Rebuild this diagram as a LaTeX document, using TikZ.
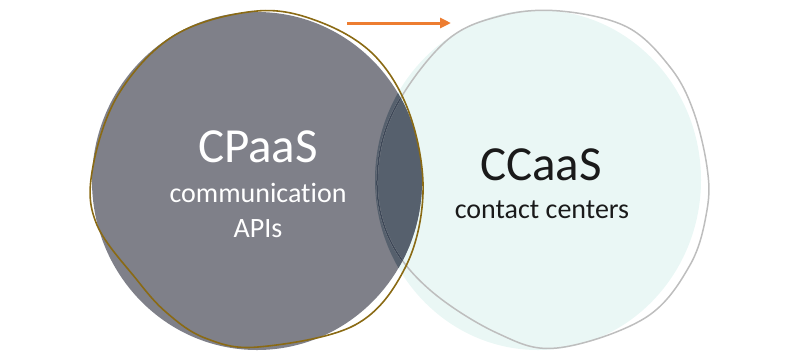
\documentclass[tikz,border=0pt]{standalone}
\usepackage{fontspec}
\setmainfont{Carlito}[Ligatures=CommonOff]
\usetikzlibrary{arrows.meta}
\definecolor{grayfill}{HTML}{7F8089}
\definecolor{browncol}{HTML}{8A6A14}
\definecolor{mintfill}{HTML}{EAF7F5}
\definecolor{outlinegray}{HTML}{BEBEBE}
\definecolor{overlapcol}{HTML}{56606D}
\definecolor{overlapline}{HTML}{3E4858}
\definecolor{arroworange}{HTML}{ED7D31}
\definecolor{darktext}{HTML}{1A1A1A}
\newcommand\rightoutlinepath{plot[smooth cycle,tension=0.6] coordinates{(560,11) (627,27) (670,67) (693,110) (707,167) (707,210) (690,265) (645,318) (557,348) (497,333) (430,290) (390,240) (377,180) (393,112) (445,42) (500,16)}}
\newcommand\brownoutlinepath{plot[smooth cycle,tension=0.6] coordinates{(257,11) (320,22) (375,56) (410,115) (423,193) (405,268) (355,325) (258,347) (205,338) (167,313) (137,280) (97,225) (92,172) (118,95) (175,35)}}
\begin{document}
\begin{tikzpicture}[x=1pt,y=-1pt,
  bigtext/.style={font=\fontsize{49}{55}\selectfont, inner sep=0pt, anchor=base},
  smalltext/.style={font=\fontsize{28}{35}\selectfont, inner sep=0pt, anchor=base}]
\useasboundingbox (0,0) rectangle (800,360);
% right (CCaaS) fill
\fill[mintfill] (538,180) ellipse [x radius=163, y radius=170];
% left (CPaaS) fill
\fill[grayfill] (257,181) ellipse [x radius=165, y radius=169];
% overlap
\begin{scope}
  \clip (257,181) ellipse [x radius=165, y radius=169];
  \fill[overlapcol] (538,180) ellipse [x radius=163, y radius=170];
\end{scope}
% right outline
\draw[outlinegray, line width=1.5pt] \rightoutlinepath;
\begin{scope}
  \clip (257,181) ellipse [x radius=165, y radius=169];
  \draw[overlapline, line width=1.5pt] \rightoutlinepath;
\end{scope}
% left brown outline
\draw[browncol, line width=1.6pt] \brownoutlinepath;
% arrow
\coordinate (arrS) at (347,23);
\coordinate (arrE) at (451,23);
\draw[arroworange, line width=3pt, -{Triangle[length=11pt,width=10pt]}] (arrS) -- (arrE);
% texts
\node[bigtext, text=white] (cpaas) at (258,162) {CPaaS};
\node[smalltext, text=white] (comm) at (258,202) {communication};
\node[smalltext, text=white] (apis) at (258,237) {APIs};
\node[bigtext, text=darktext] (ccaas) at (541,180) {CCaaS};
\node[smalltext, text=darktext] (cc) at (542,218) {contact centers};
\end{tikzpicture}
\end{document}
